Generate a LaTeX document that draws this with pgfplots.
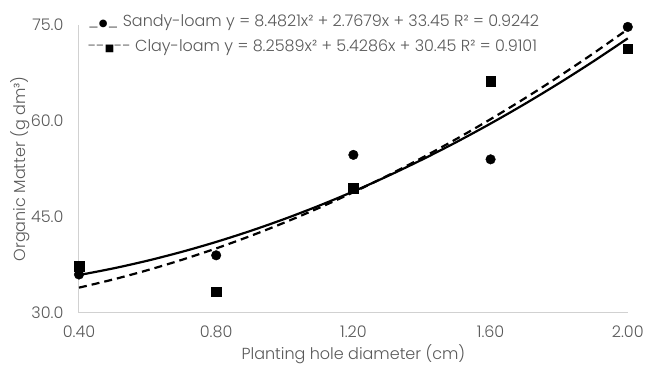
\documentclass[border=0pt]{standalone}
\usepackage{pgfplots}
\pgfplotsset{compat=1.18}
\usepackage{fontspec}
\setmainfont{Poppins Light}
\newfontfamily\symfont{DejaVu Sans}
\definecolor{txt}{HTML}{595959}
\newcommand{\sym}[1]{{\color{black}\symfont\fontsize{10}{10}\selectfont #1}}
\begin{document}
\begin{tikzpicture}
\begin{axis}[
  at={(0,0)}, anchor=south west,
  scale only axis, width=549pt, height=288pt,
  xmin=0.4, xmax=2.0, ymin=30, ymax=75,
  xtick={0.4,0.8,1.2,1.6,2.0},
  ytick={30,45,60,75},
  xticklabel style={/pgf/number format/fixed, /pgf/number format/fixed zerofill, /pgf/number format/precision=2, yshift=-9pt},
  yticklabel style={/pgf/number format/fixed, /pgf/number format/fixed zerofill, /pgf/number format/precision=1, xshift=-12pt},
  /pgf/number format/assume math mode=true,
  axis x line=bottom, axis y line=left,
  axis line style={draw=black!18, line width=1pt, -},
  major tick length=0pt,
  tick label style={font=\fontsize{16}{18}\selectfont, text=txt},
  label style={font=\fontsize{16}{18}\selectfont, text=txt},
  xlabel={Planting hole diameter (cm)},
  ylabel={Organic Matter (g dm³)},
  xlabel style={yshift=0pt},
  ylabel style={yshift=-6pt},
  clip=false,
]
% Sandy-loam trend (solid)
\addplot[black, line width=2.2pt, smooth] coordinates {
(0.4,35.914)(0.5,36.955)(0.6,38.164)(0.7,39.544)(0.8,41.093)(0.9,42.812)(1.0,44.700)(1.1,46.758)(1.2,48.986)(1.3,51.383)(1.4,53.950)(1.5,56.687)(1.6,59.593)(1.7,62.669)(1.8,65.914)(1.9,69.329)(2.0,72.914)};
% Clay-loam trend (dashed)
\addplot[black, line width=2.2pt, dash pattern=on 8pt off 5pt, smooth] coordinates {
(0.4,33.943)(0.5,35.229)(0.6,36.680)(0.7,38.297)(0.8,40.079)(0.9,42.025)(1.0,44.138)(1.1,46.415)(1.2,48.857)(1.3,51.465)(1.4,54.237)(1.5,57.175)(1.6,60.279)(1.7,63.547)(1.8,66.980)(1.9,70.579)(2.0,74.343)};
% Sandy-loam points
\addplot[only marks, mark=*, mark size=4.8pt, black] coordinates {
(0.4,36.0)(0.8,39.0)(1.2,54.7)(1.6,54.0)(2.0,74.7)};
% Clay-loam points
\addplot[only marks, mark=square*, mark size=4.8pt, black] coordinates {
(0.4,37.3)(0.8,33.3)(1.2,49.5)(1.6,66.2)(2.0,71.3)};
\node[anchor=base west, text=txt, inner sep=0pt,
  font=\fontsize{16}{18}\selectfont] at ([xshift=9pt,yshift=-1.5pt]rel axis cs:0,1)
  {\_\sym{●}\_ Sandy-loam y = 8.4821x² + 2.7679x + 33.45 R² = 0.9242};
\node[anchor=base west, text=txt, inner sep=0pt,
  font=\fontsize{16}{18}\selectfont] at ([xshift=9pt,yshift=-26.5pt]rel axis cs:0,1)
  {-{}-\sym{■}-{}- Clay-loam y = 8.2589x² + 5.4286x + 30.45 R² = 0.9101};
\end{axis}
\path[use as bounding box] (-79pt,-56pt) rectangle (568pt,313pt);
\end{tikzpicture}
\end{document}
